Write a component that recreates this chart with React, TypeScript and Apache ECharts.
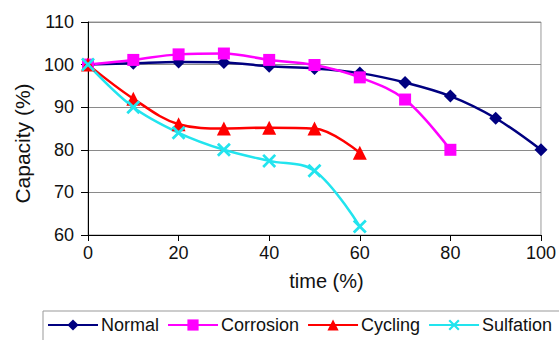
import React, { useEffect, useRef } from "react";
import * as echarts from "echarts";

const timeCategories = [0, 10, 20, 30, 40, 50, 60, 70, 80, 90, 100];
const normalValues = [100, 100.3, 100.6, 100.5, 99.6, 99.1, 98.0, 95.8, 92.6, 87.4, 80.0];
const corrosionValues = [100, 101.1, 102.4, 102.6, 101.1, 99.9, 97.0, 91.8, 80.0];
const cyclingValues = [100, 92.0, 86.0, 85.0, 85.2, 85.0, 79.3];
const sulfationValues = [100, 90.0, 84.0, 80.0, 77.4, 75.1, 62.0];
const yTicks = [60, 70, 80, 90, 100, 110];
const xTicks = [0, 20, 40, 60, 80, 100];

const FONT = "'Liberation Sans', Arial, sans-serif";
const X_SYMBOL =
  "path://M0,1.4L1.4,0L5,3.6L8.6,0L10,1.4L6.4,5L10,8.6L8.6,10L5,6.4L1.4,10L0,8.6L3.6,5Z";

function pairs(values: number[]) {
  return values.map((v, i) => [timeCategories[i], v]);
}

export default function App() {
  const ref = useRef<HTMLDivElement>(null);
  useEffect(() => {
    document.body.style.margin = "0";
    const chart = echarts.init(ref.current!, undefined, { renderer: "svg" });
    const mk = (name: string, values: number[], color: string, symbol: string, size: number) => ({
      name,
      type: "line",
      data: pairs(values),
      smooth: 0.35,
      symbol,
      symbolSize: size,
      showSymbol: true,
      lineStyle: { color, width: 2.5 },
      itemStyle: { color, borderColor: color, borderWidth: 0 },
      emphasis: { disabled: true },
    });
    chart.setOption({
      animation: false,
      grid: {
        left: 88,
        right: 18,
        top: 22,
        bottom: 105,
        show: true,
        borderColor: "#999",
        borderWidth: 1,
      },
      xAxis: {
        type: "value",
        min: xTicks[0],
        max: xTicks[xTicks.length - 1],
        interval: 20,
        name: "time (%)",
        nameLocation: "middle",
        nameGap: 36,
        nameTextStyle: { fontFamily: FONT, fontSize: 20, color: "#111", padding: [0, 0, 0, 24] },
        axisLine: { lineStyle: { color: "#000", width: 1 } },
        axisTick: { show: true, inside: false, length: 6, lineStyle: { color: "#000" } },
        axisLabel: { fontFamily: FONT, fontSize: 18, color: "#111", margin: 9 },
        splitLine: { show: false },
      },
      yAxis: {
        type: "value",
        min: yTicks[0],
        max: yTicks[yTicks.length - 1],
        interval: 10,
        name: "Capacity (%)",
        nameLocation: "middle",
        nameGap: 55,
        nameTextStyle: { fontFamily: FONT, fontSize: 21, color: "#111", padding: [0, 30, 0, 0] },
        axisLine: { show: true, lineStyle: { color: "#000", width: 1 } },
        axisTick: { show: true, inside: false, length: 7, lineStyle: { color: "#000" } },
        axisLabel: { fontFamily: FONT, fontSize: 18, color: "#111", margin: 14 },
        splitLine: { show: true, lineStyle: { color: "#8a8a8a", width: 1 } },
      },
      legend: {
        left: 43,
        top: 311,
        width: 540,
        orient: "horizontal",
        itemWidth: 50,
        itemHeight: 14,
        itemGap: 8,
        padding: [5, 20, 10, 4],
        borderColor: "#999",
        borderWidth: 1,
        textStyle: { fontFamily: FONT, fontSize: 18, color: "#111", padding: [0, 0, 0, -2] },
        data: ["Normal", "Corrosion", "Cycling", "Sulfation"],
      },
      series: [
        mk("Normal", normalValues, "#000080", "diamond", 13),
        mk("Corrosion", corrosionValues, "#ff00ff", "rect", 12),
        mk("Cycling", cyclingValues, "#ff0000", "triangle", 14),
        mk("Sulfation", sulfationValues, "#22e4ee", X_SYMBOL, 14),
      ],
    });
    return () => chart.dispose();
  }, []);
  return (
    <div
      ref={ref}
      style={{ position: "absolute", left: 0, top: 0, width: 559, height: 340, background: "#fff" }}
    />
  );
}
